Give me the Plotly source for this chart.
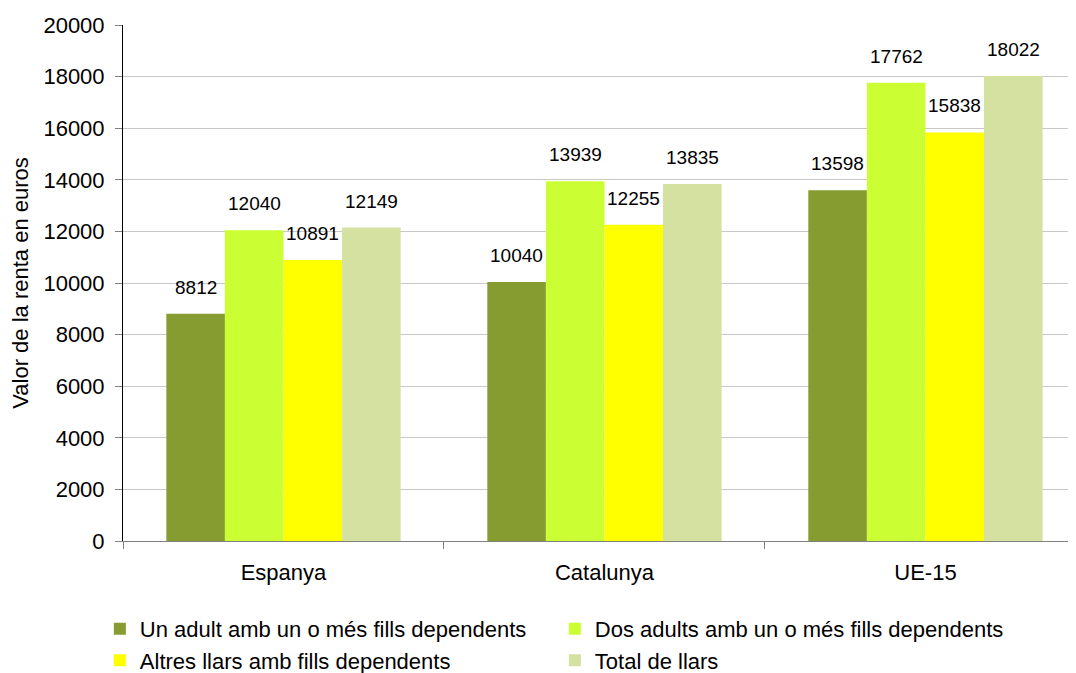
import plotly.graph_objects as go

categories = ["Espanya", "Catalunya", "UE-15"]
series_names = [
    "Un adult amb un o més fills dependents",
    "Dos adults amb un o més fills dependents",
    "Altres llars amb fills dependents",
    "Total de llars",
]
un_adult = [8812, 10040, 13598]
dos_adults = [12040, 13939, 17762]
altres_llars = [10891, 12255, 15838]
total_llars = [12149, 13835, 18022]

values = [un_adult, dos_adults, altres_llars, total_llars]
colors = ["#869B30", "#CCFF33", "#FFFF00", "#D4E1A0"]
font = "Liberation Sans, Arial, sans-serif"
bargap = 0.27

fig = go.Figure()
annotations = []
n = len(values)
bar_w = (1 - bargap) / n
for k, (name, vals, color) in enumerate(zip(series_names, values, colors)):
    fig.add_trace(go.Bar(
        x=list(range(len(categories))), y=vals, name=name,
        marker=dict(color=color, line=dict(width=0)),
    ))
    # value labels sitting a bit above each bar
    for i, v in enumerate(vals):
        annotations.append(dict(
            x=i + (k - (n - 1) / 2) * bar_w, y=v, text=str(v),
            xref="x", yref="y", showarrow=False,
            yanchor="bottom", yshift=14,
            font=dict(size=19, color="black", family=font),
        ))

# page body has an 8px margin, so the figure is a bit smaller than the window
fig.update_layout(
    width=1068, height=665,
    barmode="group", bargap=bargap, bargroupgap=0,
    plot_bgcolor="white", paper_bgcolor="white",
    margin=dict(l=115, r=0, t=17, b=132, autoexpand=False),
    font=dict(family=font, size=22, color="black"),
    annotations=annotations,
    legend=dict(
        orientation="h", xref="container", yref="container",
        x=0.086, y=0.098, xanchor="left", yanchor="top",
        entrywidth=410, entrywidthmode="pixels",
        font=dict(size=22), traceorder="normal",
    ),
)
fig.update_xaxes(
    range=[-0.5, 2.469],
    tickmode="array", tickvals=list(range(len(categories))), ticktext=categories,
    showline=True, linecolor="#808080", linewidth=1,
    ticks="", ticklabelstandoff=12, tickfont=dict(size=22), automargin=False,
    minor=dict(tickmode="array", tickvals=[-0.5, 0.5, 1.5, 2.5],
               ticks="outside", ticklen=7, tickcolor="#808080", showgrid=False),
)
fig.update_yaxes(
    range=[0, 20000], dtick=2000, tickformat="d",
    showgrid=True, gridcolor="#C8C8C8", gridwidth=1,
    showline=True, linecolor="black", linewidth=1,
    ticks="outside", ticklen=7, tickcolor="#808080", ticklabelstandoff=6,
    tickfont=dict(size=22), automargin=False,
    title=dict(text="Valor de la renta en euros", font=dict(size=22), standoff=18),
    zeroline=False,
)

fig.write_html("out.html")
